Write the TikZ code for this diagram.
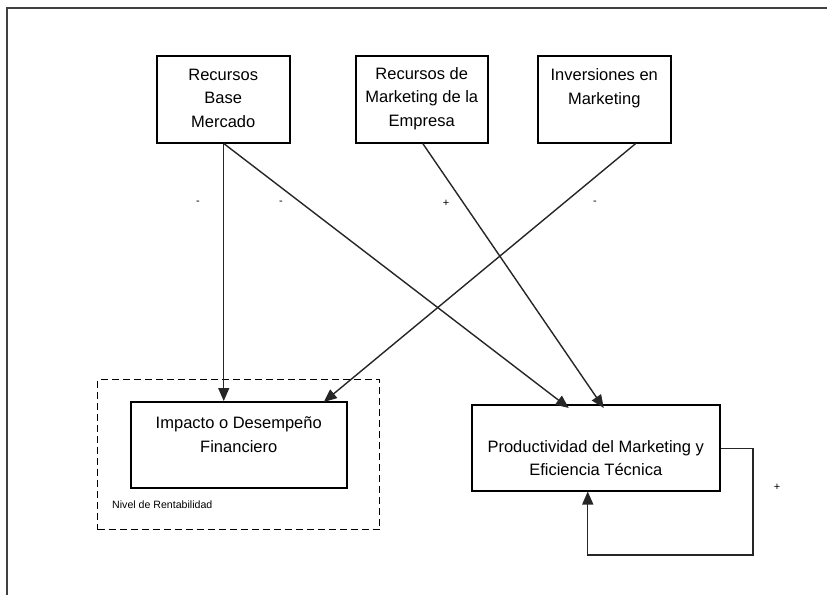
\documentclass[tikz,border=0pt]{standalone}
\usepackage{fontspec}
\setmainfont{Liberation Sans}
\usetikzlibrary{arrows.meta,calc}

\tikzset{
  box/.style={draw, line width=1.5pt, rectangle, anchor=north west, inner sep=0pt},
  txt/.style={align=center, font=\fontsize{16.5}{23.5}\selectfont, inner sep=0pt},
  sign/.style={font=\fontsize{11}{12}\selectfont, inner sep=0pt},
  link/.style={line width=1.4pt, draw=black!85},
  arr/.style={link, -{Triangle[length=13pt,width=11pt]}},
  frame/.style={line width=1.6pt, draw=black!75},
}

\begin{document}
\begin{tikzpicture}[x=1pt,y=-1pt]
  \useasboundingbox (0,0) rectangle (827,595);

  % page frame (top and left edges)
  \draw[frame] (827,8) -- (7,8) -- (7,595);

  % source boxes
  \node[box, minimum width=133pt, minimum height=87pt] (rbm) at (156,55) {};
  \node[box, minimum width=132pt, minimum height=87pt] (rme) at (355,55) {};
  \node[box, minimum width=133pt, minimum height=87pt] (inv) at (537,55) {};
  \node[txt] (rbmT) at ([yshift=1pt]rbm.center) {Recursos\\Base\\Mercado};
  \node[txt] (rmeT) at ([yshift=1pt]rme.center) {Recursos de\\Marketing de la\\Empresa};
  \node[txt] (invT) at ([yshift=11pt]inv.center) {Inversiones en\\Marketing};

  % profitability area
  \node[draw, dash pattern=on 7pt off 4pt, line width=1.3pt, anchor=north west,
        minimum width=282pt, minimum height=150pt, inner sep=0pt] (niv) at (97,379) {};
  \node[box, minimum width=216pt, minimum height=86pt] (imp) at (130,401) {};
  \node[txt] (impT) at ([yshift=10pt]imp.center) {Impacto o Desempeño\\Financiero};
  \node[anchor=west, inner sep=0pt, font=\fontsize{10.6}{12}\selectfont] (nivT)
        at (112,505) {Nivel de Rentabilidad};

  % productivity box
  \node[box, minimum width=248pt, minimum height=86pt] (prod) at (471,404) {};
  \node[txt] (prodT) at ([yshift=-10.5pt]prod.center) {Productividad del Marketing y\\Eficiencia Técnica};

  % anchor points on the box edges
  \coordinate (rbmS) at ([xshift=0.5pt]rbm.south);
  \coordinate (rmeS) at ([xshift=1pt]rme.south);
  \coordinate (invS) at ([xshift=31.5pt]inv.south);
  \coordinate (impA) at ([xshift=-15pt]imp.north);
  \coordinate (impB) at ([xshift=85pt]imp.north);
  \coordinate (prodA) at ([xshift=-27pt]prod.north);
  \coordinate (prodB) at ([xshift=8pt]prod.north);
  \coordinate (prodE) at ([yshift=-1pt]prod.east);
  \coordinate (prodS) at ([xshift=-8pt]prod.south);
  \coordinate (loopR) at (753,555);

  % influences
  \draw[arr] (rbmS) -- (impA);
  \draw[arr] (rbmS) -- ([yshift=-4pt]prodA);
  \draw[arr] (rmeS) -- ([yshift=-4pt]prodB);
  \draw[arr] (invS) -- ([yshift=-1pt]impB);

  % feedback loop
  \draw[arr] (prodE) -| (loopR) -| (prodS);

  % signs
  \node[sign] (s1) at (198,203) {-};
  \node[sign] (s2) at (281,203) {-};
  \node[sign] (s3) at (446,203) {+};
  \node[sign] (s4) at (595,203) {-};
  \node[sign] (s5) at (777,487) {+};
\end{tikzpicture}
\end{document}
